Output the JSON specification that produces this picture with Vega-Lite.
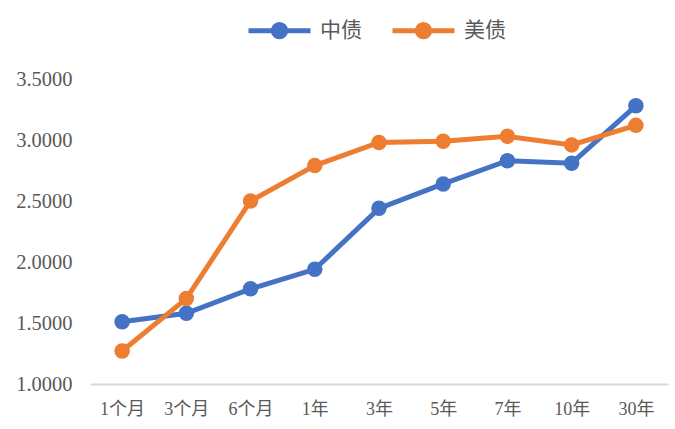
{
  "$schema": "https://vega.github.io/schema/vega-lite/v6.json",
  "autosize": {"type": "none"},
  "width": 578,
  "height": 305,
  "padding": {"left": 90, "top": 79, "right": 7, "bottom": 45},
  "background": "white",
  "config": {
    "view": {"stroke": null},
    "font": "Liberation Serif, Noto Sans CJK SC",
    "axis": {"labelFont": "Liberation Serif, Noto Sans CJK SC", "labelColor": "#595959", "grid": false, "ticks": false, "title": null},
    "legend": {"labelFont": "Liberation Serif, Noto Sans CJK SC"}
  },
  "data": {
    "values": [
      {"term": "1个月", "series": "中债", "value": 1.51},
      {"term": "3个月", "series": "中债", "value": 1.58},
      {"term": "6个月", "series": "中债", "value": 1.78},
      {"term": "1年", "series": "中债", "value": 1.94},
      {"term": "3年", "series": "中债", "value": 2.44},
      {"term": "5年", "series": "中债", "value": 2.64},
      {"term": "7年", "series": "中债", "value": 2.83},
      {"term": "10年", "series": "中债", "value": 2.81},
      {"term": "30年", "series": "中债", "value": 3.28},
      {"term": "1个月", "series": "美债", "value": 1.27},
      {"term": "3个月", "series": "美债", "value": 1.70},
      {"term": "6个月", "series": "美债", "value": 2.50},
      {"term": "1年", "series": "美债", "value": 2.79},
      {"term": "3年", "series": "美债", "value": 2.98},
      {"term": "5年", "series": "美债", "value": 2.99},
      {"term": "7年", "series": "美债", "value": 3.03},
      {"term": "10年", "series": "美债", "value": 2.96},
      {"term": "30年", "series": "美债", "value": 3.12}
    ]
  },
  "mark": {"type": "line", "strokeWidth": 5, "point": {"size": 240, "filled": true, "opacity": 1}},
  "encoding": {
    "x": {
      "field": "term",
      "type": "ordinal",
      "sort": ["1个月", "3个月", "6个月", "1年", "3年", "5年", "7年", "10年", "30年"],
      "scale": {"type": "point", "padding": 0.5},
      "axis": {"labelAngle": 0, "labelFontSize": 18, "labelPadding": 16, "domainColor": "#D9D9D9", "domainWidth": 2}
    },
    "y": {
      "field": "value",
      "type": "quantitative",
      "scale": {"domain": [1, 3.5], "nice": false, "zero": false},
      "axis": {"values": [1, 1.5, 2, 2.5, 3, 3.5], "format": ".4f", "labelFontSize": 20.5, "labelPadding": 18, "domain": false}
    },
    "color": {
      "field": "series",
      "type": "nominal",
      "scale": {"domain": ["中债", "美债"], "range": ["#4472C4", "#ED7D31"]},
      "legend": {
        "title": null,
        "orient": "none",
        "direction": "horizontal",
        "legendX": 156,
        "legendY": -82,
        "symbolType": "M-1,0L1,0M0.2,0A0.2,0.2,0,1,1,-0.2,0A0.2,0.2,0,1,1,0.2,0Z",
        "symbolSize": 3844,
        "symbolStrokeWidth": 5,
        "labelFontSize": 21,
        "labelColor": "#595959",
        "labelOffset": 7,
        "columnPadding": 20,
        "encode": {
          "symbols": {"update": {"fill": {"scale": "color", "field": "value"}, "stroke": {"scale": "color", "field": "value"}, "opacity": {"value": 1}}}
        }
      }
    }
  }
}
